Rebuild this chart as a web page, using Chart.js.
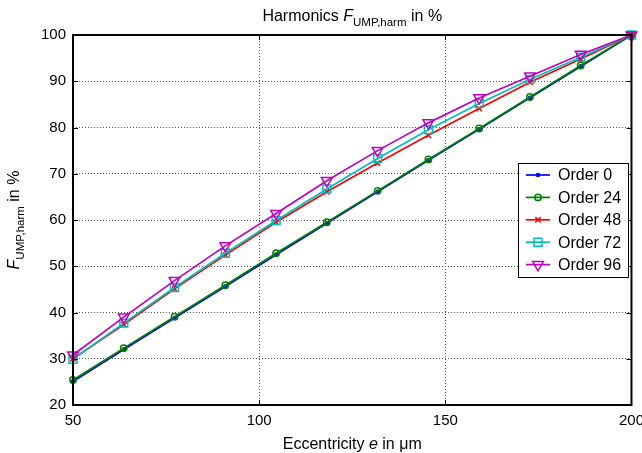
<!DOCTYPE html>
<html>
<head>
<meta charset="utf-8">
<script src="https://cdn.jsdelivr.net/npm/chart.js@4.4.0/dist/chart.umd.min.js"></script>
<style>
  html, body { margin: 0; padding: 0; overflow: hidden; background: #fff; }
</style>
</head>
<body>
<canvas id="chart" width="651" height="453"></canvas>
<script>
// eccentricity in um and harmonic share in % per order
var eccentricity = [50, 63.64, 77.27, 90.91, 104.55, 118.18, 131.82, 145.45, 159.09, 172.73, 186.36, 200]
var order0 = [25.1, 32.0, 38.8, 45.6, 52.5, 59.3, 66.1, 72.9, 79.6, 86.4, 93.2, 100]
var order24 = [25.4, 32.3, 39.1, 45.9, 52.8, 59.5, 66.3, 73.1, 79.8, 86.6, 93.4, 100]
var order48 = [30.0, 37.4, 45.1, 52.4, 59.5, 66.1, 72.3, 78.3, 84.1, 89.8, 94.8, 100]
var order72 = [29.9, 37.7, 45.4, 52.8, 59.9, 66.7, 73.3, 79.5, 85.2, 90.4, 95.2, 100]
var order96 = [30.8, 39.0, 46.9, 54.4, 61.4, 68.5, 75.0, 81.0, 86.4, 91.1, 95.8, 100]
var seriesNames = ['Order 0', 'Order 24', 'Order 48', 'Order 72', 'Order 96']
var xTicks = [50, 100, 150, 200]
var yTicks = [20, 30, 40, 50, 60, 70, 80, 90, 100]

var FONT = '"Liberation Sans", Arial, Helvetica, sans-serif'

function toPoints(values) {
    return values.map(function (v, i) { return {x: eccentricity[i], y: v} })
}

var styles = [
    {color: '#0000ff', fill: '#0000ff', pointStyle: 'circle', radius: 1.6, rotation: 0},
    {color: '#008000', fill: 'rgba(0,0,0,0)', pointStyle: 'circle', radius: 3.2, rotation: 0},
    {color: '#ff0000', fill: 'rgba(0,0,0,0)', pointStyle: 'crossRot', radius: 3.8, rotation: 0},
    {color: '#00bfbf', fill: 'rgba(0,0,0,0)', pointStyle: 'rect', radius: 5.6, rotation: 0},
    {color: '#bf00bf', fill: 'rgba(0,0,0,0)', pointStyle: 'triangle', radius: 6.2, rotation: 180}
]
var series = [order0, order24, order48, order72, order96]

var datasets = series.map(function (values, i) {
    var s = styles[i]
    return {
        label: seriesNames[i],
        data: toPoints(values),
        borderColor: s.color,
        backgroundColor: s.color,
        borderWidth: 1.7,
        pointStyle: s.pointStyle,
        pointRadius: s.radius,
        pointRotation: s.rotation,
        pointBorderColor: s.color,
        pointBackgroundColor: s.fill,
        pointBorderWidth: 1.5,
        tension: 0,
        clip: false,
        order: series.length - i
    }
})

function partFont(p) {
    return (p.italic ? 'italic ' : '') + (p.sub ? 11.5 : 16) + 'px ' + FONT
}

// text with italic symbols and subscripts, centred on x
function drawRich(ctx, parts, x, y) {
    var total = 0
    parts.forEach(function (p) {
        ctx.font = partFont(p)
        p.w = ctx.measureText(p.text).width
        total += p.w
    })
    var cx = x - total / 2
    parts.forEach(function (p) {
        ctx.font = partFont(p)
        ctx.fillText(p.text, cx, y + (p.sub ? 5 : 0))
        cx += p.w
    })
}

var framePlugin = {
    id: 'frame',
    afterDraw: function (chart) {
        var ctx = chart.ctx
        var a = chart.chartArea
        var xs = chart.scales.x
        var ys = chart.scales.y
        ctx.save()

        // box round the plot with inward ticks
        ctx.strokeStyle = '#000'
        ctx.lineWidth = 2
        ctx.strokeRect(a.left, a.top, a.right - a.left, a.bottom - a.top)
        ctx.lineWidth = 1
        ctx.beginPath()
        xTicks.forEach(function (v) {
            var px = Math.round(xs.getPixelForValue(v)) + 0.5
            ctx.moveTo(px, a.bottom); ctx.lineTo(px, a.bottom - 5)
            ctx.moveTo(px, a.top); ctx.lineTo(px, a.top + 5)
        })
        yTicks.forEach(function (v) {
            var py = Math.round(ys.getPixelForValue(v)) + 0.5
            ctx.moveTo(a.left, py); ctx.lineTo(a.left + 5, py)
            ctx.moveTo(a.right, py); ctx.lineTo(a.right - 5, py)
        })
        ctx.stroke()

        // titles
        ctx.fillStyle = '#000'
        ctx.textAlign = 'left'
        ctx.textBaseline = 'alphabetic'
        var mid = (a.left + a.right) / 2
        drawRich(ctx, [
            {text: 'Harmonics '},
            {text: 'F', italic: true},
            {text: 'UMP,harm', sub: true},
            {text: ' in %'}
        ], mid, 21)
        drawRich(ctx, [
            {text: 'Eccentricity '},
            {text: 'e', italic: true},
            {text: ' in \u03bcm'}
        ], mid, 449)
        ctx.save()
        ctx.translate(19, 220)
        ctx.rotate(-Math.PI / 2)
        drawRich(ctx, [
            {text: 'F', italic: true},
            {text: 'UMP,harm', sub: true},
            {text: ' in %'}
        ], 0, 0)
        ctx.restore()

        // legend
        var lx = 518, ly = 163, lw = 110, lh = 114
        ctx.fillStyle = '#fff'
        ctx.fillRect(lx, ly, lw, lh)
        ctx.strokeStyle = '#000'
        ctx.lineWidth = 1
        ctx.strokeRect(lx + 0.5, ly + 0.5, lw, lh)
        ctx.font = '16px ' + FONT
        ctx.textBaseline = 'middle'
        seriesNames.forEach(function (name, i) {
            var s = styles[i]
            var ry = ly + 12 + i * 22.4
            ctx.strokeStyle = s.color
            ctx.lineWidth = 1.7
            ctx.beginPath()
            ctx.moveTo(lx + 8, ry); ctx.lineTo(lx + 32, ry)
            ctx.stroke()
            ctx.fillStyle = s.fill
            ctx.lineWidth = 1.5
            Chart.helpers.drawPoint(ctx, {
                pointStyle: s.pointStyle, radius: s.radius, rotation: s.rotation, borderWidth: 1.5
            }, lx + 20, ry)
            ctx.fillStyle = '#000'
            ctx.fillText(name, lx + 40, ry + 1)
        })
        ctx.restore()
    }
}

var chart = document.getElementById('chart')
var ctx = chart.getContext('2d')

var myChart = new Chart(ctx, {
    type: 'line',
    data: {datasets: datasets},
    plugins: [framePlugin],
    options: {
        responsive: false,
        animation: false,
        layout: {padding: {top: 35, right: 14, left: 0, bottom: 0}},
        plugins: {
            legend: {display: false},
            tooltip: {enabled: false},
            title: {display: false}
        },
        scales: {
            x: {
                type: 'linear',
                min: 50,
                max: 200,
                afterFit: function (scale) { scale.height = 48 },
                afterBuildTicks: function (scale) {
                    scale.ticks = xTicks.map(function (v) { return {value: v} })
                },
                ticks: {
                    color: '#000',
                    padding: 7,
                    maxRotation: 0,
                    font: {family: FONT, size: 15}
                },
                grid: {color: '#555', lineWidth: 1, drawTicks: false},
                border: {display: false, dash: [1, 2]}
            },
            y: {
                min: 20,
                max: 100,
                afterFit: function (scale) { scale.width = 73 },
                afterBuildTicks: function (scale) {
                    scale.ticks = yTicks.map(function (v) { return {value: v} })
                },
                ticks: {
                    color: '#000',
                    padding: 7,
                    font: {family: FONT, size: 15}
                },
                grid: {color: '#555', lineWidth: 1, drawTicks: false},
                border: {display: false, dash: [1, 2]}
            }
        }
    }
})
</script>
</body>
</html>
